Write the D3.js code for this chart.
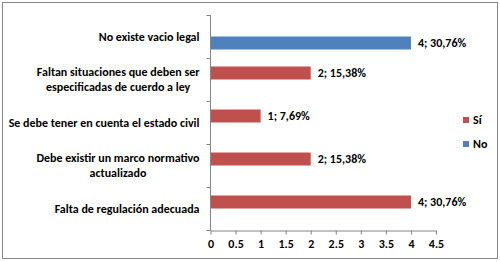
<!DOCTYPE html>
<html>
<head>
<meta charset="utf-8">
<script src="https://cdn.jsdelivr.net/npm/d3@7"></script>
<style>
    body { margin: 0; background: #fff; }
    text { font-family: Carlito, "Liberation Sans Narrow", "Arial Narrow", sans-serif; font-weight: bold; fill: #000; }
</style>
</head>
<body>
<div id="chart"></div>
<script>
// categories, top to bottom (lines split as in the original)
let categories = [
    ["No existe vacio legal"],
    ["Faltan situaciones que deben ser", "especificadas de cuerdo a ley"],
    ["Se debe tener en cuenta el estado civil"],
    ["Debe existir un marco normativo", "actualizado"],
    ["Falta de regulación adecuada"]
]
let seriesNames = ["Sí", "No"]
let valuesSi = [0, 2, 1, 2, 4]
let valuesNo = [4, 0, 0, 0, 0]
let labelsSi = ["", "2; 15,38%", "1; 7,69%", "2; 15,38%", "4; 30,76%"]
let labelsNo = ["4; 30,76%", "", "", "", ""]
let xTicks = [0, 0.5, 1, 1.5, 2, 2.5, 3, 3.5, 4, 4.5]

let colors = {"Sí": "#C0504D", "No": "#4F81BD"}

let width = 500, height = 262

let svg = d3.select("#chart").append("svg")
    .attr("width", width)
    .attr("height", height)

// chart border
svg.append("rect")
    .attr("x", 2.5).attr("y", 2.5)
    .attr("width", 495).attr("height", 256)
    .attr("fill", "#fff")
    .attr("stroke", "#868686")
    .attr("stroke-width", 1)

let x = d3.scaleLinear()
    .domain([0, 4.5])
    .range([210.5, 436])

let y = d3.scaleBand()
    .domain(d3.range(categories.length))
    .range([15, 230])

// Sí above, No below inside each band
let ySub = d3.scaleBand()
    .domain(seriesNames)
    .range([y.bandwidth() / 2 - 13, y.bandwidth() / 2 + 13])

let rows = []
categories.forEach((c, i) => {
    rows.push({cat: i, series: "Sí", value: valuesSi[i], label: labelsSi[i]})
    rows.push({cat: i, series: "No", value: valuesNo[i], label: labelsNo[i]})
})

// bars
svg.selectAll(".bar")
    .data(rows.filter(d => d.value > 0))
    .enter()
    .append("rect")
    .attr("class", "bar")
    .attr("x", x(0))
    .attr("y", d => y(d.cat) + ySub(d.series))
    .attr("width", d => x(d.value) - x(0))
    .attr("height", ySub.bandwidth())
    .attr("fill", d => colors[d.series])

// data labels
svg.selectAll(".dlabel")
    .data(rows.filter(d => d.value > 0))
    .enter()
    .append("text")
    .attr("class", "dlabel")
    .attr("x", d => x(d.value) + 7)
    .attr("y", d => y(d.cat) + ySub(d.series) + ySub.bandwidth() / 2)
    .attr("dy", "0.35em")
    .style("font-size", "12px")
    .text(d => d.label)

// x axis
let xAxis = d3.axisBottom(x)
    .tickValues(xTicks)
    .tickSize(4)
    .tickSizeOuter(0)
    .tickFormat(d => d)

let gx = svg.append("g")
    .attr("transform", `translate(0, 230.5)`)
    .call(xAxis)
gx.select(".domain").attr("stroke", "#868686")
gx.selectAll(".tick line").attr("stroke", "#868686")
gx.selectAll(".tick text")
    .attr("y", 9)
    .style("font-size", "12px")
    .style("font-family", null)

// y axis: line plus ticks at band edges
svg.append("line")
    .attr("x1", x(0)).attr("x2", x(0))
    .attr("y1", 15).attr("y2", 230.5)
    .attr("stroke", "#868686")

let edges = d3.range(categories.length + 1).map(i => 15 + i * y.step())
svg.selectAll(".ytick")
    .data(edges)
    .enter()
    .append("line")
    .attr("x1", x(0) - 4).attr("x2", x(0))
    .attr("y1", d => Math.round(d) + 0.5).attr("y2", d => Math.round(d) + 0.5)
    .attr("stroke", "#868686")

// category labels
let catText = svg.selectAll(".cat")
    .data(categories)
    .enter()
    .append("text")
    .attr("class", "cat")
    .style("font-size", "12px")
    .attr("text-anchor", "middle")

catText.each(function (lines, i) {
    let t = d3.select(this)
    let cy = y(i) + y.bandwidth() / 2
    let lh = 15
    lines.forEach((ln, j) => {
        t.append("tspan")
            .attr("y", cy + (j - (lines.length - 1) / 2) * lh)
            .attr("dy", "0.35em")
            .text(ln)
    })
})

// right align the label block, centering its lines
catText.each(function () {
    let t = d3.select(this)
    let w = d3.max(t.selectAll("tspan").nodes(), n => n.getComputedTextLength())
    t.selectAll("tspan").attr("x", 199.5 - w / 2)
})

// legend
let legend = svg.append("g")
    .attr("transform", "translate(463, 120)")

seriesNames.forEach((s, i) => {
    legend.append("rect")
        .attr("x", 0)
        .attr("y", i * 24 - 3)
        .attr("width", 6)
        .attr("height", 6)
        .attr("fill", colors[s])
    legend.append("text")
        .attr("x", 10)
        .attr("y", i * 24)
        .attr("dy", "0.35em")
        .style("font-size", "12px")
        .text(s)
})
</script>
</body>
</html>
